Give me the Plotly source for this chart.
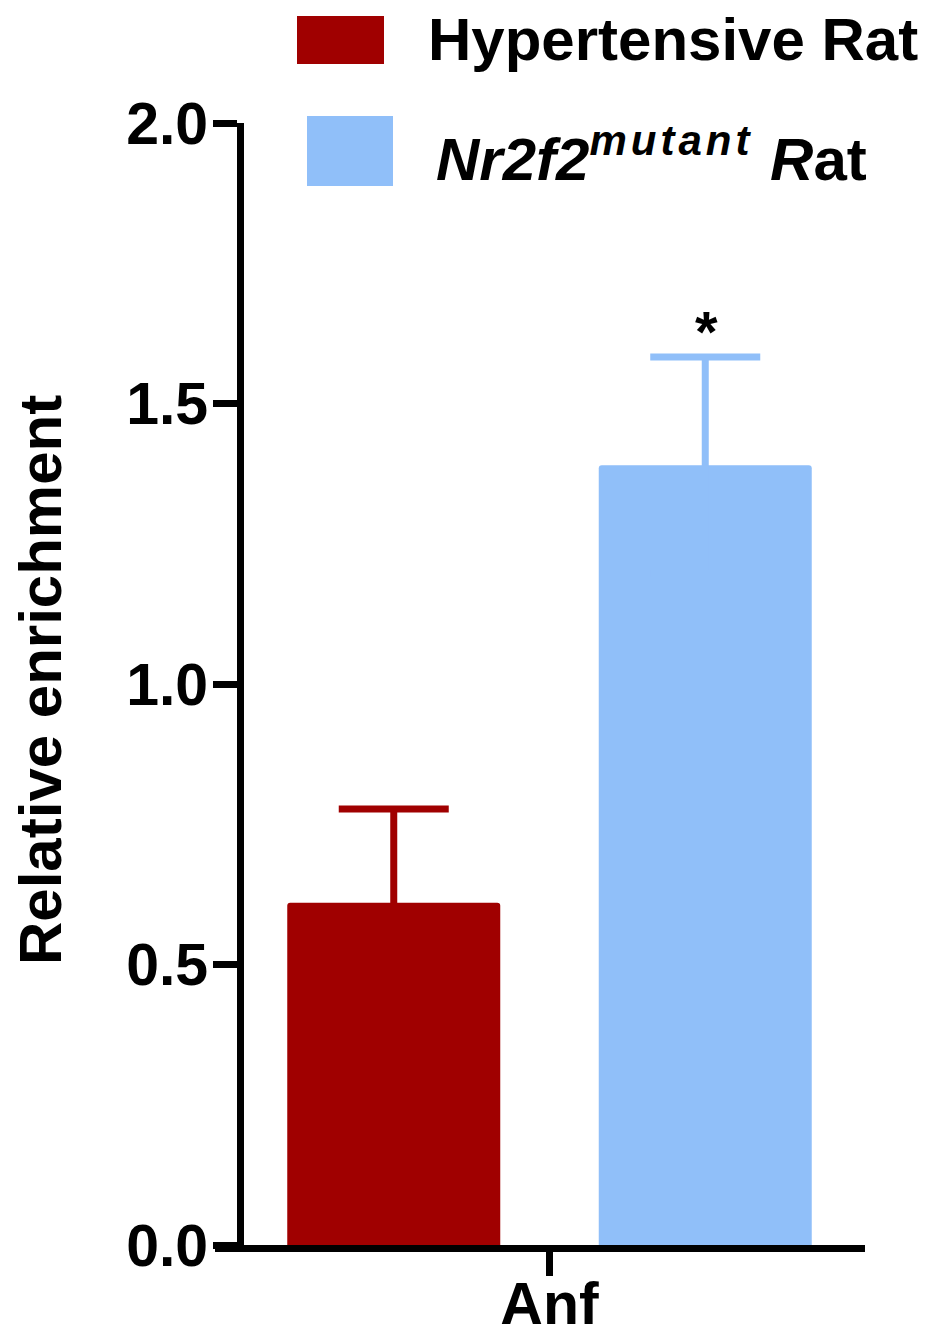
import plotly.graph_objects as go

# ---------------- data ----------------
categories = ["Anf"]
series_names = [
    "Hypertensive Rat",
    "<i>Nr2f2<sup><span style=\"letter-spacing:4px\">mutant</span></sup> R</i>at",
]
hyper_mean = [0.61]
hyper_sem = [0.167]
mutant_mean = [1.39]
mutant_sem = [0.193]
mutant_sig = ["*"]
y_tick_vals = [0.0, 0.5, 1.0, 1.5, 2.0]
y_tick_text = ["0.0", "0.5", "1.0", "1.5", "2.0"]
colors = ["#A00000", "#90BFF9"]

# ---------------- layout constants (pixels of the 934x1332 page) ----------------
PAGE_OFF = 8                            # default body margin of the page
W, H = 934 - PAGE_OFF, 1332 - PAGE_OFF
FONT = "Liberation Sans, Arial, sans-serif"
x_left_px, x_right_px = 215, 865        # x axis line extent
yaxis_px = 240                          # y axis line position
tick_center_px = 549.5                  # category centre
y_bottom_px, y_top_px = 1245, 123       # y = 0 and y = 2.0
bar_w_px = 213
bar_pitch_px = 311.5


def px(xp):
    return (xp - PAGE_OFF) / W


def py(yp):
    return 1 - (yp - PAGE_OFF) / H


cat_px = x_right_px - x_left_px         # one category unit in px
x0 = -(tick_center_px - x_left_px) / cat_px
x1 = (x_right_px - tick_center_px) / cat_px
bargap = 1 - 2 * bar_pitch_px / cat_px
bargroupgap = 1 - bar_w_px / bar_pitch_px

fig = go.Figure()
for means, sems, name, col in [
    (hyper_mean, hyper_sem, series_names[0], colors[0]),
    (mutant_mean, mutant_sem, series_names[1], colors[1]),
]:
    # symmetric error bar in the bar colour: the lower half vanishes inside the bar
    fig.add_trace(go.Bar(
        x=categories, y=means, name=name,
        marker=dict(color=col, line=dict(width=0)),
        error_y=dict(type="data", array=sems, color=col, thickness=7, width=55),
        showlegend=False,
    ))

# significance marker above the mutant bar
offset = bar_pitch_px / 2 / cat_px
annotations = []
for i, s in enumerate(mutant_sig):
    if s:
        annotations.append(dict(
            x=i + offset, y=mutant_mean[i] + mutant_sem[i], xref="x", yref="y",
            text="<b>%s</b>" % s, showarrow=False, yanchor="bottom",
            yshift=-9, xshift=1, font=dict(family=FONT, size=58, color="black"),
        ))

# y axis title
annotations.append(dict(
    x=px(40), y=py(680), xref="paper", yref="paper",
    text="<b>Relative enrichment</b>", textangle=-90, showarrow=False,
    xanchor="center", yanchor="middle",
    font=dict(family=FONT, size=60, color="black"),
))

# custom legend
shapes = []
legend_rows = [
    dict(box=(297, 16, 384, 64), text_x=426, text_y=39),
    dict(box=(307, 116, 393, 186), text_x=434, text_y=155),
]
for name, col, row in zip(series_names, colors, legend_rows):
    bx0, by0, bx1, by1 = row["box"]
    shapes.append(dict(type="rect", xref="paper", yref="paper",
                       x0=px(bx0), x1=px(bx1), y0=py(by1), y1=py(by0),
                       fillcolor=col, line=dict(width=0)))
    annotations.append(dict(
        x=px(row["text_x"]), y=py(row["text_y"]), xref="paper", yref="paper",
        text="<b>%s</b>" % name, showarrow=False, xanchor="left", yanchor="middle",
        font=dict(family=FONT, size=60, color="black"),
    ))

fig.update_layout(
    width=W, height=H,
    margin=dict(l=0, r=0, t=0, b=0, autoexpand=False),
    paper_bgcolor="white", plot_bgcolor="white",
    barmode="group", bargap=bargap, bargroupgap=bargroupgap,
    barcornerradius=3,
    xaxis=dict(
        domain=[px(x_left_px), px(x_right_px)],
        range=[x0, x1], type="category", automargin=False,
        showline=True, linecolor="black", linewidth=7,
        ticks="outside", ticklen=24, tickwidth=7, tickcolor="black",
        showgrid=False, zeroline=False, ticklabelstandoff=-23,
        tickfont=dict(family=FONT, size=59, color="black"),
        tickprefix="<b>", ticksuffix="</b>",
    ),
    yaxis=dict(
        domain=[py(y_bottom_px), py(y_top_px)],
        range=[0, 2.0], anchor="free", position=px(yaxis_px), automargin=False,
        showline=True, linecolor="black", linewidth=7,
        ticks="outside", ticklen=24, tickwidth=7, tickcolor="black",
        tickvals=y_tick_vals, ticktext=["<b>%s</b>" % t for t in y_tick_text],
        showgrid=False, zeroline=False, ticklabelstandoff=-7,
        tickfont=dict(family=FONT, size=59, color="black"),
    ),
    shapes=shapes,
    annotations=annotations,
)

fig.write_html("out.html")
